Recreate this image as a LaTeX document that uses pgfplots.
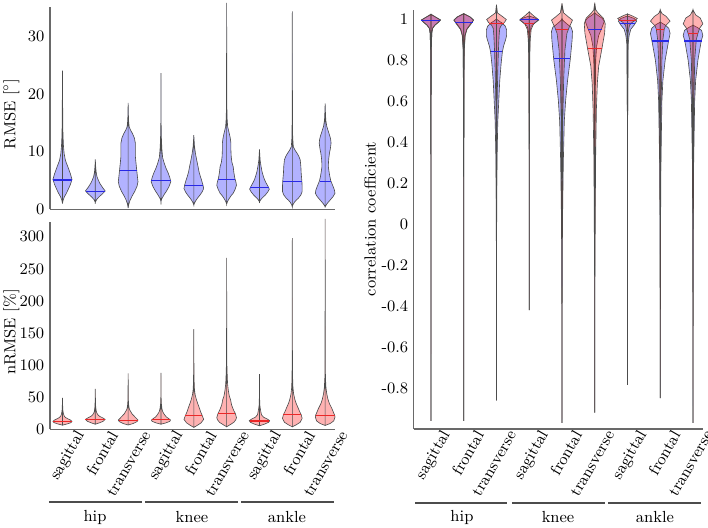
\documentclass[border=0pt]{standalone}
\usepackage{pgfplots}
\pgfplotsset{compat=1.18}
\usepackage{pgfplotstable}
\usepgfplotslibrary{fillbetween}

\definecolor{axgray}{RGB}{105,105,105}
\definecolor{medblue}{RGB}{40,40,230}
\definecolor{medred}{RGB}{235,40,40}

\newcommand{\violin}[4]{% id, pos, table, colour
  \addplot[draw=none, forget plot, name path=R#1] table[x expr={#2+\thisrow{w}}, y=y] {#3};
  \addplot[draw=none, forget plot, name path=L#1] table[x expr={#2-\thisrow{w}}, y=y] {#3};
  \addplot[fill=#4, fill opacity=0.3, draw=black!70, line width=0.35pt, forget plot] fill between[of=R#1 and L#1];
}
\newcommand{\med}[4]{% pos, value, halfwidth, colour
  \addplot[#4, line width=0.6pt, forget plot] table[row sep=\\, x expr={#1+\thisrow{d}}, y=y] {d y\\ -#3 #2\\ #3 #2\\};
}

% ---------- RMSE ----------
\pgfplotstableread[row sep=\\]{y w\\ 1.0 0\\ 1.6 0.02\\ 2.2 0.06\\ 2.8 0.12\\ 3.4 0.17\\ 4.3 0.24\\ 5.2 0.29\\ 6.2 0.24\\ 7.3 0.17\\ 8.5 0.09\\ 9.7 0.05\\ 11 0.03\\ 13 0.015\\ 16 0.008\\ 24.1 0\\}\rA
\pgfplotstableread[row sep=\\]{y w\\ 1.2 0\\ 1.7 0.04\\ 2.2 0.12\\ 2.7 0.22\\ 3.2 0.30\\ 3.8 0.22\\ 4.5 0.14\\ 5.1 0.09\\ 5.7 0.05\\ 6.5 0.025\\ 7.5 0.01\\ 8.7 0\\}\rB
\pgfplotstableread[row sep=\\]{y w\\ 0.2 0\\ 0.9 0.02\\ 1.6 0.06\\ 2.3 0.12\\ 3.1 0.2\\ 4.0 0.27\\ 4.8 0.30\\ 5.8 0.28\\ 6.9 0.26\\ 8.0 0.24\\ 9.2 0.22\\ 10.3 0.22\\ 11.5 0.22\\ 12.4 0.19\\ 13.2 0.13\\ 13.8 0.07\\ 14.4 0.03\\ 15.5 0.012\\ 18.5 0\\}\rC
\pgfplotstableread[row sep=\\]{y w\\ 1.3 0\\ 1.8 0.02\\ 2.2 0.06\\ 2.6 0.1\\ 3.1 0.16\\ 3.9 0.24\\ 4.8 0.30\\ 5.5 0.27\\ 6.3 0.22\\ 7.2 0.15\\ 8.0 0.10\\ 9.0 0.05\\ 10.3 0.03\\ 12 0.015\\ 15 0.005\\ 23.7 0\\}\rD
\pgfplotstableread[row sep=\\]{y w\\ 0.75 0\\ 1.2 0.03\\ 1.6 0.07\\ 2.0 0.12\\ 2.5 0.19\\ 3.0 0.25\\ 3.6 0.30\\ 4.2 0.28\\ 5.0 0.24\\ 5.7 0.20\\ 6.5 0.16\\ 7.4 0.13\\ 8.5 0.09\\ 9.7 0.05\\ 11 0.02\\ 12.9 0\\}\rE
\pgfplotstableread[row sep=\\]{y w\\ 0.9 0\\ 1.4 0.03\\ 1.9 0.08\\ 2.4 0.14\\ 2.8 0.20\\ 3.5 0.26\\ 4.2 0.30\\ 4.8 0.28\\ 5.4 0.25\\ 6.4 0.22\\ 7.4 0.20\\ 8.2 0.16\\ 9.1 0.14\\ 10.3 0.13\\ 11.5 0.13\\ 12.4 0.11\\ 13.2 0.08\\ 14.4 0.03\\ 16 0.012\\ 19 0.005\\ 35.9 0\\}\rF
\pgfplotstableread[row sep=\\]{y w\\ 1.3 0\\ 1.7 0.04\\ 2.0 0.09\\ 2.5 0.18\\ 3.0 0.25\\ 3.5 0.30\\ 4.0 0.26\\ 4.6 0.20\\ 5.2 0.15\\ 5.7 0.12\\ 6.5 0.08\\ 7.4 0.05\\ 8.5 0.02\\ 10.4 0\\}\rG
\pgfplotstableread[row sep=\\]{y w\\ 0.45 0\\ 0.8 0.02\\ 1.2 0.06\\ 1.6 0.12\\ 1.9 0.18\\ 2.5 0.26\\ 3.1 0.30\\ 4.0 0.30\\ 5.0 0.29\\ 6.3 0.27\\ 7.5 0.26\\ 8.6 0.24\\ 9.2 0.2\\ 9.7 0.15\\ 10.3 0.08\\ 10.9 0.03\\ 12.5 0.012\\ 16 0.005\\ 34.4 0\\}\rH
\pgfplotstableread[row sep=\\]{y w\\ 0.45 0\\ 1.0 0.06\\ 1.6 0.15\\ 2.2 0.24\\ 2.8 0.30\\ 3.4 0.28\\ 4.0 0.24\\ 5.0 0.17\\ 5.8 0.14\\ 6.5 0.12\\ 7.3 0.10\\ 8.0 0.10\\ 8.8 0.11\\ 9.7 0.13\\ 10.6 0.16\\ 11.5 0.18\\ 12.1 0.17\\ 12.6 0.15\\ 13.5 0.10\\ 14.4 0.05\\ 15.5 0.02\\ 17 0.008\\ 18.4 0\\}\rI

% ---------- nRMSE ----------
\pgfplotstableread[row sep=\\]{y w\\ 6.5 0\\ 8.5 0.15\\ 10.5 0.26\\ 12.5 0.29\\ 14.5 0.24\\ 17 0.14\\ 19 0.08\\ 21 0.05\\ 25 0.025\\ 30 0.012\\ 38 0.005\\ 49 0\\}\nA
\pgfplotstableread[row sep=\\]{y w\\ 8 0\\ 10 0.12\\ 12.5 0.24\\ 15.5 0.30\\ 18 0.22\\ 20 0.14\\ 22 0.09\\ 25 0.05\\ 28 0.03\\ 35 0.012\\ 45 0.005\\ 63 0\\}\nB
\pgfplotstableread[row sep=\\]{y w\\ 6.7 0\\ 9 0.15\\ 12 0.27\\ 14.5 0.30\\ 17 0.25\\ 20.8 0.18\\ 24 0.12\\ 27.5 0.08\\ 30 0.05\\ 33 0.03\\ 40 0.012\\ 50 0.005\\ 87 0\\}\nC
\pgfplotstableread[row sep=\\]{y w\\ 8 0\\ 10 0.15\\ 12.5 0.27\\ 14.5 0.29\\ 17 0.23\\ 19 0.17\\ 22 0.12\\ 25 0.08\\ 28 0.05\\ 32 0.03\\ 40 0.012\\ 50 0.005\\ 88 0\\}\nD
\pgfplotstableread[row sep=\\]{y w\\ 3 0\\ 6 0.1\\ 10 0.22\\ 15.5 0.30\\ 21 0.26\\ 27 0.21\\ 33 0.17\\ 40 0.12\\ 46 0.08\\ 54 0.04\\ 62 0.02\\ 75 0.01\\ 100 0.004\\ 156 0\\}\nE
\pgfplotstableread[row sep=\\]{y w\\ 4 0\\ 7 0.1\\ 11 0.22\\ 15 0.28\\ 18 0.30\\ 22 0.28\\ 25 0.26\\ 30 0.21\\ 38 0.15\\ 46 0.12\\ 52 0.08\\ 61 0.05\\ 70 0.03\\ 80 0.02\\ 100 0.008\\ 140 0.003\\ 267 0\\}\nF
\pgfplotstableread[row sep=\\]{y w\\ 5.5 0\\ 8 0.15\\ 11 0.28\\ 13.5 0.31\\ 16 0.24\\ 18.7 0.13\\ 22 0.07\\ 25 0.05\\ 28 0.04\\ 32 0.025\\ 38 0.01\\ 50 0.004\\ 86 0\\}\nG
\pgfplotstableread[row sep=\\]{y w\\ 4 0\\ 7 0.12\\ 11 0.24\\ 17 0.30\\ 23 0.27\\ 28 0.22\\ 33 0.18\\ 40 0.12\\ 46 0.08\\ 55 0.04\\ 65 0.02\\ 80 0.01\\ 110 0.004\\ 298 0\\}\nH
\pgfplotstableread[row sep=\\]{y w\\ 6 0\\ 9 0.15\\ 13 0.26\\ 19 0.30\\ 22 0.29\\ 28 0.24\\ 33 0.2\\ 40 0.13\\ 46 0.09\\ 55 0.05\\ 65 0.025\\ 80 0.01\\ 110 0.004\\ 328 0\\}\nI

% ---------- correlation, blue ----------
\pgfplotstableread[row sep=\\]{y w\\ -0.96 0\\ 0.0 0.003\\ 0.6 0.006\\ 0.85 0.012\\ 0.93 0.025\\ 0.955 0.05\\ 0.97 0.12\\ 0.983 0.22\\ 0.995 0.29\\ 1.008 0.16\\ 1.022 0\\}\cbA
\pgfplotstableread[row sep=\\]{y w\\ -0.96 0\\ 0.0 0.003\\ 0.6 0.008\\ 0.85 0.015\\ 0.92 0.04\\ 0.95 0.09\\ 0.975 0.2\\ 0.995 0.30\\ 1.01 0.2\\ 1.025 0\\}\cbB
\pgfplotstableread[row sep=\\]{y w\\ -0.86 0\\ -0.3 0.003\\ 0.0 0.006\\ 0.3 0.015\\ 0.5 0.04\\ 0.6 0.07\\ 0.7 0.10\\ 0.78 0.14\\ 0.84 0.18\\ 0.87 0.22\\ 0.9 0.28\\ 0.92 0.31\\ 0.946 0.31\\ 0.965 0.27\\ 0.98 0.18\\ 0.99 0.08\\ 1.0 0\\}\cbC
\pgfplotstableread[row sep=\\]{y w\\ -0.42 0\\ 0.3 0.003\\ 0.8 0.008\\ 0.93 0.02\\ 0.965 0.06\\ 0.98 0.16\\ 0.995 0.29\\ 1.005 0.18\\ 1.015 0\\}\cbD
\pgfplotstableread[row sep=\\]{y w\\ -0.97 0\\ -0.5 0.003\\ 0.0 0.015\\ 0.3 0.04\\ 0.5 0.07\\ 0.6 0.11\\ 0.7 0.17\\ 0.8 0.25\\ 0.85 0.28\\ 0.9 0.31\\ 0.94 0.32\\ 0.96 0.28\\ 0.975 0.16\\ 0.99 0.05\\ 1.0 0\\}\cbE
\pgfplotstableread[row sep=\\]{y w\\ -0.92 0\\ 0.0 0.004\\ 0.6 0.015\\ 0.8 0.03\\ 0.87 0.06\\ 0.92 0.12\\ 0.95 0.2\\ 0.975 0.26\\ 0.99 0.29\\ 1.005 0.22\\ 1.02 0.08\\ 1.03 0\\}\cbF
\pgfplotstableread[row sep=\\]{y w\\ -0.785 0\\ 0.5 0.004\\ 0.88 0.02\\ 0.92 0.05\\ 0.95 0.1\\ 0.97 0.2\\ 0.99 0.28\\ 1.003 0.2\\ 1.015 0\\}\cbG
\pgfplotstableread[row sep=\\]{y w\\ -0.85 0\\ 0.0 0.01\\ 0.3 0.02\\ 0.6 0.05\\ 0.7 0.08\\ 0.8 0.15\\ 0.89 0.25\\ 0.93 0.30\\ 0.955 0.26\\ 0.972 0.14\\ 0.985 0\\}\cbH
\pgfplotstableread[row sep=\\]{y w\\ -0.97 0\\ 0.0 0.01\\ 0.3 0.02\\ 0.6 0.05\\ 0.7 0.08\\ 0.8 0.15\\ 0.893 0.25\\ 0.92 0.30\\ 0.945 0.26\\ 0.96 0.12\\ 0.97 0\\}\cbI

% ---------- correlation, red ----------
\pgfplotstableread[row sep=\\]{y w\\ -0.96 0\\ 0.0 0.003\\ 0.6 0.006\\ 0.85 0.012\\ 0.93 0.025\\ 0.955 0.05\\ 0.972 0.13\\ 0.985 0.23\\ 0.996 0.29\\ 1.009 0.15\\ 1.024 0\\}\crA
\pgfplotstableread[row sep=\\]{y w\\ -0.96 0\\ 0.0 0.003\\ 0.6 0.008\\ 0.85 0.018\\ 0.92 0.045\\ 0.95 0.10\\ 0.975 0.22\\ 0.995 0.30\\ 1.012 0.18\\ 1.027 0\\}\crB
\pgfplotstableread[row sep=\\]{y w\\ -0.86 0\\ 0.0 0.003\\ 0.4 0.01\\ 0.6 0.02\\ 0.75 0.04\\ 0.85 0.06\\ 0.92 0.08\\ 0.955 0.10\\ 0.97 0.15\\ 0.985 0.25\\ 0.998 0.30\\ 1.015 0.16\\ 1.03 0.03\\ 1.07 0\\}\crC
\pgfplotstableread[row sep=\\]{y w\\ -0.42 0\\ 0.3 0.004\\ 0.8 0.015\\ 0.9 0.03\\ 0.95 0.06\\ 0.975 0.13\\ 0.99 0.24\\ 0.998 0.28\\ 1.015 0.14\\ 1.035 0\\}\crD
\pgfplotstableread[row sep=\\]{y w\\ -0.97 0\\ 0.0 0.004\\ 0.5 0.025\\ 0.7 0.05\\ 0.85 0.09\\ 0.93 0.15\\ 0.96 0.22\\ 0.98 0.28\\ 0.995 0.32\\ 1.01 0.2\\ 1.03 0.05\\ 1.077 0\\}\crE
\pgfplotstableread[row sep=\\]{y w\\ -0.92 0\\ -0.3 0.004\\ 0.0 0.015\\ 0.3 0.025\\ 0.56 0.05\\ 0.69 0.08\\ 0.77 0.12\\ 0.857 0.22\\ 0.93 0.30\\ 0.977 0.32\\ 1.005 0.26\\ 1.03 0.1\\ 1.045 0.03\\ 1.08 0\\}\crF
\pgfplotstableread[row sep=\\]{y w\\ -0.785 0\\ 0.5 0.004\\ 0.93 0.015\\ 0.97 0.06\\ 0.985 0.15\\ 0.995 0.25\\ 1.003 0.30\\ 1.015 0.15\\ 1.025 0\\}\crG
\pgfplotstableread[row sep=\\]{y w\\ -0.85 0\\ 0.0 0.005\\ 0.5 0.02\\ 0.8 0.05\\ 0.9 0.08\\ 0.95 0.12\\ 0.967 0.16\\ 0.99 0.30\\ 1.013 0.18\\ 1.027 0.05\\ 1.044 0\\}\crH
\pgfplotstableread[row sep=\\]{y w\\ -0.97 0\\ 0.0 0.005\\ 0.5 0.02\\ 0.8 0.05\\ 0.9 0.1\\ 0.93 0.15\\ 0.955 0.2\\ 0.977 0.30\\ 1.005 0.22\\ 1.02 0.08\\ 1.045 0\\}\crI

\pgfplotsset{
  vstyle/.style={
    scale only axis, anchor=south west,
    axis x line=bottom, axis y line=left,
    axis line style={axgray, line width=0.6pt, -},
    major tick length=0pt,
    clip=false,
    xtick={1,...,9},
  },
  catlabels/.style={
    xticklabels={sagittal,frontal,transverse,sagittal,frontal,transverse,sagittal,frontal,transverse},
    xticklabel style={xshift=#1, yshift=1pt, rotate=60, anchor=east},
  },
}

\begin{document}
\fontsize{9}{11}\selectfont
\begin{tikzpicture}

% ---- RMSE ----
\begin{axis}[vstyle, at={(28pt,177.9pt)}, width=159.6pt, height=113.3pt,
  xmin=0.62, xmax=9.3, ymin=0, ymax=35.18, xticklabels={}, ytick={0,10,20,30}]
\violin{rA}{1}{\rA}{blue}
\violin{rB}{2}{\rB}{blue}
\violin{rC}{3}{\rC}{blue}
\violin{rD}{4}{\rD}{blue}
\violin{rE}{5}{\rE}{blue}
\violin{rF}{6}{\rF}{blue}
\violin{rG}{7}{\rG}{blue}
\violin{rH}{8}{\rH}{blue}
\violin{rI}{9}{\rI}{blue}
\med{1}{5.1}{0.29}{medblue}
\med{2}{3.1}{0.28}{medblue}
\med{3}{6.8}{0.26}{medblue}
\med{4}{5.0}{0.29}{medblue}
\med{5}{4.1}{0.28}{medblue}
\med{6}{5.2}{0.25}{medblue}
\med{7}{3.8}{0.28}{medblue}
\med{8}{4.9}{0.29}{medblue}
\med{9}{4.8}{0.17}{medblue}
\end{axis}

% ---- nRMSE ----
\begin{axis}[vstyle, catlabels=12pt, at={(28pt,54.7pt)}, width=159.6pt, height=116.1pt,
  xmin=0.62, xmax=9.3, ymin=0, ymax=323, ytick={0,50,...,300}]
\violin{nA}{1}{\nA}{red}
\violin{nB}{2}{\nB}{red}
\violin{nC}{3}{\nC}{red}
\violin{nD}{4}{\nD}{red}
\violin{nE}{5}{\nE}{red}
\violin{nF}{6}{\nF}{red}
\violin{nG}{7}{\nG}{red}
\violin{nH}{8}{\nH}{red}
\violin{nI}{9}{\nI}{red}
\med{1}{12}{0.28}{medred}
\med{2}{15}{0.30}{medred}
\med{3}{14}{0.29}{medred}
\med{4}{15.5}{0.26}{medred}
\med{5}{21}{0.26}{medred}
\med{6}{25}{0.26}{medred}
\med{7}{13}{0.30}{medred}
\med{8}{23}{0.27}{medred}
\med{9}{22}{0.29}{medred}
\end{axis}

% ---- correlation ----
\begin{axis}[vstyle, catlabels=10.5pt, at={(231.8pt,54.9pt)}, width=161.8pt, height=234.6pt,
  xmin=0.48, xmax=9.3, ymin=-1.0, ymax=1.044,
  ytick={-0.8,-0.6,-0.4,-0.2,0,0.2,0.4,0.6,0.8,1},
  yticklabels={-0.8,-0.6,-0.4,-0.2,0,0.2,0.4,0.6,0.8,1}]
\violin{bA}{1}{\cbA}{blue}
\violin{bB}{2}{\cbB}{blue}
\violin{bC}{3}{\cbC}{blue}
\violin{bD}{4}{\cbD}{blue}
\violin{bE}{5}{\cbE}{blue}
\violin{bF}{6}{\cbF}{blue}
\violin{bG}{7}{\cbG}{blue}
\violin{bH}{8}{\cbH}{blue}
\violin{bI}{9}{\cbI}{blue}
\violin{qA}{1}{\crA}{red}
\violin{qB}{2}{\crB}{red}
\violin{qC}{3}{\crC}{red}
\violin{qD}{4}{\crD}{red}
\violin{qE}{5}{\crE}{red}
\violin{qF}{6}{\crF}{red}
\violin{qG}{7}{\crG}{red}
\violin{qH}{8}{\crH}{red}
\violin{qI}{9}{\crI}{red}
\med{1}{0.995}{0.29}{medred}
\med{2}{0.985}{0.27}{medred}
\med{3}{0.98}{0.22}{medred}
\med{4}{0.98}{0.15}{medred}
\med{5}{0.95}{0.17}{medred}
\med{6}{0.857}{0.22}{medred}
\med{7}{0.995}{0.25}{medred}
\med{8}{0.95}{0.12}{medred}
\med{9}{0.93}{0.15}{medred}
\med{1}{0.995}{0.29}{medblue}
\med{2}{0.985}{0.27}{medblue}
\med{3}{0.84}{0.18}{medblue}
\med{4}{0.997}{0.29}{medblue}
\med{5}{0.808}{0.25}{medblue}
\med{6}{0.95}{0.22}{medblue}
\med{7}{0.98}{0.24}{medblue}
\med{8}{0.893}{0.26}{medblue}
\med{9}{0.893}{0.27}{medblue}
\end{axis}

% ---- axis titles ----
\node[rotate=90] at (6.4pt,231.3pt) {RMSE [$^\circ$]};
\node[rotate=90] at (6.4pt,109.2pt) {nRMSE [\%]};
\node[rotate=90] at (207.2pt,172.5pt) {correlation coefficient};

% ---- group brackets ----
\begin{scope}[line width=0.9pt, draw=black!70]
\draw (27.4pt,14.0pt) -- (79.5pt,14.0pt);
\draw (81.2pt,14.0pt) -- (133.3pt,14.0pt);
\draw (135.0pt,14.0pt) -- (187.0pt,14.0pt);
\draw (232.4pt,13.4pt) -- (283.9pt,13.4pt);
\draw (286.7pt,13.4pt) -- (338.8pt,13.4pt);
\draw (340.5pt,13.4pt) -- (392.6pt,13.4pt);
\end{scope}
\node at (53.2pt,5.6pt) {hip};
\node at (107.5pt,5.6pt) {knee};
\node at (160.7pt,5.6pt) {ankle};
\node at (258.7pt,5.6pt) {hip};
\node at (312.5pt,5.6pt) {knee};
\node at (366.8pt,5.6pt) {ankle};

\pgfresetboundingbox
\useasboundingbox (0,0) rectangle (396.48pt,295.12pt);
\end{tikzpicture}
\end{document}
